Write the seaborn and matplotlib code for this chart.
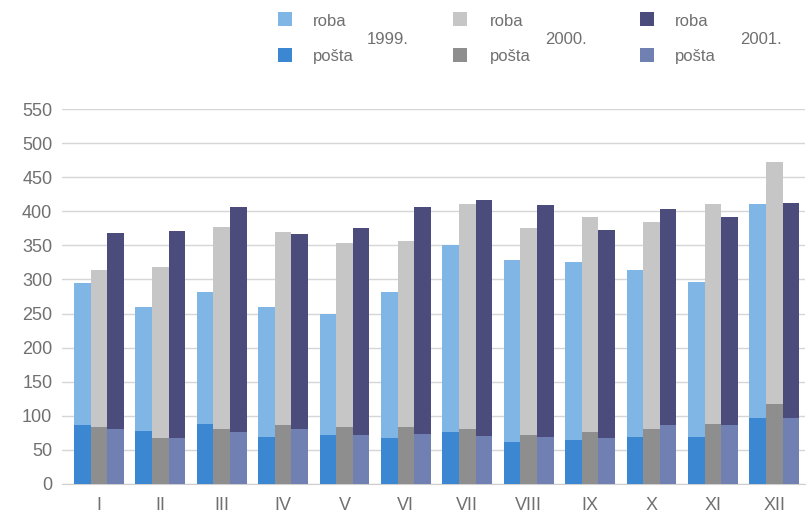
import numpy as np
import pandas as pd
import matplotlib
matplotlib.use("Agg")
import matplotlib.pyplot as plt
from matplotlib.patches import Rectangle
import seaborn as sns

months = ["I", "II", "III", "IV", "V", "VI", "VII", "VIII", "IX", "X", "XI", "XII"]
years = ["1999.", "2000.", "2001."]

# roba = upper segment, posta = lower segment
roba_1999 = [209, 182, 194, 191, 177, 214, 273, 266, 260, 245, 227, 313]
posta_1999 = [86, 78, 88, 69, 72, 67, 77, 62, 65, 69, 69, 97]
roba_2000 = [230, 251, 297, 283, 270, 274, 330, 303, 315, 303, 322, 355]
posta_2000 = [84, 67, 80, 86, 83, 83, 81, 72, 77, 81, 88, 118]
roba_2001 = [287, 303, 330, 286, 303, 333, 345, 340, 305, 317, 306, 315]
posta_2001 = [81, 68, 76, 80, 72, 73, 71, 69, 68, 86, 86, 97]

roba_colors = ["#80b6e6", "#c6c6c6", "#4b4c7c"]
posta_colors = ["#3b87d2", "#8e8e8e", "#7080b3"]
text_color = "#707070"

rows = []
for year, roba, posta in zip(years, [roba_1999, roba_2000, roba_2001],
                             [posta_1999, posta_2000, posta_2001]):
    for m, r, p in zip(months, roba, posta):
        rows.append({"month": m, "year": year, "roba": r, "posta": p, "total": r + p})
df = pd.DataFrame(rows)

sns.set_style("white")
plt.rcParams["font.family"] = ["Liberation Sans", "DejaVu Sans"]

fig = plt.figure(figsize=(8.08, 5.17), dpi=100)
ax = fig.add_axes([62 / 808, 1 - 484 / 517, (805 - 62) / 808, (484 - 109) / 517])

sns.barplot(data=df, x="month", y="total", hue="year", order=months, hue_order=years,
            palette=roba_colors, width=0.81, gap=0, saturation=1, errorbar=None,
            linewidth=0, legend=False, ax=ax, zorder=3)
sns.barplot(data=df, x="month", y="posta", hue="year", order=months, hue_order=years,
            palette=posta_colors, width=0.81, gap=0, saturation=1, errorbar=None,
            linewidth=0, legend=False, ax=ax, zorder=3)

ax.set_ylim(0, 550)
ax.set_xlim(-0.6, 11.5)
ax.set_yticks(np.arange(0, 551, 50))
ax.yaxis.grid(True, color="#d6d6d6", linewidth=1, zorder=0)
ax.set_axisbelow(True)
for s in ["top", "right", "left"]:
    ax.spines[s].set_visible(False)
ax.spines["bottom"].set_color("#cfcfcf")
ax.tick_params(axis="both", length=0, labelsize=13, labelcolor=text_color)
ax.tick_params(axis="y", pad=7)
ax.tick_params(axis="x", pad=9)
ax.set_xlabel("")
ax.set_ylabel("")

# legend built from figure text
square_x = [285, 460, 647]
label_x = [313, 490, 675]
year_x = [367, 545, 740]
for i, year in enumerate(years):
    for y_px, col, lab in [(19, roba_colors[i], "roba"), (55, posta_colors[i], "pošta")]:
        fig.patches.append(Rectangle(((square_x[i] - 7) / 808, 1 - (y_px + 7) / 517),
                                     14 / 808, 14 / 517, transform=fig.transFigure,
                                     facecolor=col, edgecolor="none"))
        fig.text(label_x[i] / 808, 1 - (y_px + 2) / 517, lab, fontsize=12,
                 color=text_color, va="center", ha="left")
    fig.text(year_x[i] / 808, 1 - 40 / 517, year, fontsize=12, color=text_color,
             va="center", ha="left")

fig.savefig("out.png", dpi=100)
